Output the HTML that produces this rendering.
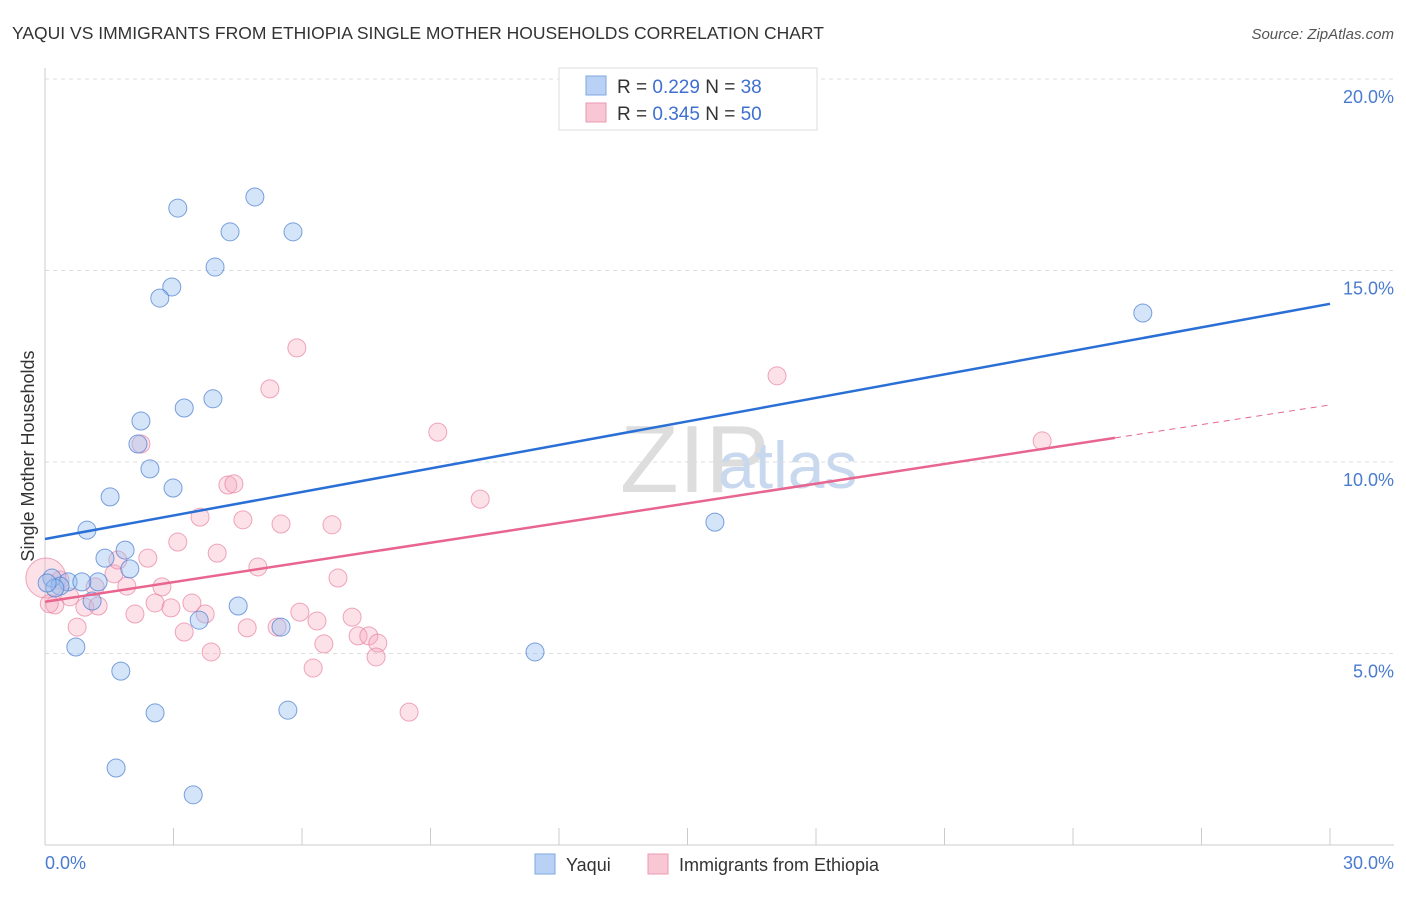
<!DOCTYPE html>
<html><head><meta charset="utf-8"><style>
body{margin:0;background:#fff;font-family:"Liberation Sans",sans-serif;}
svg text{font-family:"Liberation Sans",sans-serif;}
</style></head><body>
<svg width="1406" height="892">
<text x="12" y="39" font-size="17.5" fill="#333">YAQUI VS IMMIGRANTS FROM ETHIOPIA SINGLE MOTHER HOUSEHOLDS CORRELATION CHART</text>
<text x="1394" y="39" font-size="15" fill="#555" text-anchor="end" font-style="italic">Source: ZipAtlas.com</text>
<text x="620" y="492" font-size="96" fill="#ddd" font-family="Liberation Serif">ZIP</text>
<text x="718" y="488" font-size="66" fill="#c8d8ee">atlas</text>
<g id="grid"></g>
<g id="axes"></g>
<g id="pts"></g>
<g id="lines"></g>
<text transform="translate(34,456) rotate(-90)" font-size="18" fill="#333" text-anchor="middle">Single Mother Households</text>
<text x="45" y="869" font-size="18" fill="#4a7bd0">0.0%</text>
<text x="1394" y="869" font-size="18" fill="#4a7bd0" text-anchor="end">30.0%</text>
<g>
<rect x="559" y="68" width="258" height="62" fill="#fff" stroke="#ddd"/>
<rect x="586" y="76" width="20" height="19" fill="#b9d1f4" stroke="#7fa6e0"/>
<rect x="586" y="103" width="20" height="19" fill="#f9c6d4" stroke="#eb9bb3"/>
<text x="617" y="93" font-size="19" fill="#333">R = <tspan fill="#3f6fd0">0.229</tspan>   N = <tspan fill="#3f6fd0">38</tspan></text>
<text x="617" y="120" font-size="19" fill="#333">R = <tspan fill="#3f6fd0">0.345</tspan>   N = <tspan fill="#3f6fd0">50</tspan></text>
</g>
<g>
<rect x="535" y="854" width="20" height="20" fill="#b9d1f4" stroke="#7fa6e0"/>
<text x="566" y="871" font-size="18" fill="#333">Yaqui</text>
<rect x="648" y="854" width="20" height="20" fill="#f9c6d4" stroke="#eb9bb3"/>
<text x="679" y="871" font-size="18" fill="#333">Immigrants from Ethiopia</text>
</g>
</svg>
<script>
const yTicks=[5,10,15,20];
const yTickLabels=["5.0%","10.0%","15.0%","20.0%"];
const xTicks=[0,3,6,9,12,15,18,21,24,27,30];
const blueX=[3.10,4.90,4.32,5.79,3.97,2.96,2.68,25.63,3.92,3.25,2.24,2.17,2.45,2.99,1.52,0.98,15.64,1.87,1.40,1.98,0.16,0.54,1.24,0.35,1.10,4.51,3.60,5.51,0.72,11.44,1.77,2.57,5.67,1.66,3.46,0.86,0.23,0.05];
const blueY=[16.63,16.92,16.01,16.01,15.09,14.57,14.28,13.89,11.65,11.41,11.07,10.47,9.82,9.32,9.09,8.22,8.43,7.70,7.49,7.21,6.97,6.87,6.87,6.76,6.37,6.24,5.87,5.69,5.17,5.04,4.54,3.45,3.52,2.01,1.31,6.87,6.71,6.84];
const pinkX=[5.88,5.25,17.09,9.17,23.28,2.24,10.16,4.27,4.41,3.62,4.62,5.51,6.70,3.10,4.02,2.40,4.97,1.61,6.84,2.73,1.91,0.35,1.17,0.58,0.23,0.93,3.43,2.57,2.94,1.24,2.10,3.74,5.95,7.17,6.35,0.75,4.72,5.42,3.25,7.31,7.56,7.77,6.51,3.88,7.73,6.26,8.50,0.02,1.70,0.10];
const pinkY=[12.98,11.91,12.25,10.78,10.55,10.47,9.03,9.40,9.43,8.56,8.49,8.38,8.36,7.91,7.62,7.49,7.26,7.08,6.97,6.74,6.76,6.92,6.74,6.48,6.27,6.21,6.32,6.32,6.19,6.24,6.03,6.03,6.08,5.95,5.85,5.69,5.67,5.69,5.56,5.46,5.46,5.27,5.25,5.04,4.91,4.62,3.47,6.97,7.44,6.30];
const blueTrend=[[0,7.99],[30,14.13]];
const pinkTrend=[[0,6.35],[24.98,10.63],[30,11.49]];
const X=v=>45+v/30*1285, Y=v=>845-v/5*191.5;
const NS="http://www.w3.org/2000/svg";
function mk(t,a,p){const e=document.createElementNS(NS,t);for(const k in a)e.setAttribute(k,a[k]);document.getElementById(p).appendChild(e);return e;}
yTicks.forEach((t,i)=>{
 const l=mk('line',{x1:45,x2:1394,y1:Y(t),y2:Y(t),stroke:'#ddd','stroke-dasharray':'4,4'},'grid');
 
 
 const tx=mk('text',{x:1394,y:Y(t)+24,'font-size':18,fill:'#4a7bd0','text-anchor':'end'},'grid');
 tx.textContent=yTickLabels[i];
 
 
});
let ax=mk('line',{x1:45,x2:1394,y1:845,y2:845,stroke:'#ccc'},'axes');


let ay=mk('line',{x1:45,x2:45,y1:68,y2:845,stroke:'#ccc'},'axes');


xTicks.forEach(t=>{
 const l=mk('line',{x1:X(t),x2:X(t),y1:828,y2:845,stroke:'#ccc'},'axes');
 
 
});
pinkX.forEach((x,i)=>{
 const c=mk('circle',{cx:X(x),cy:Y(pinkY[i]),r:i==47?20:9,fill:'rgba(246,170,192,0.35)',stroke:'rgba(232,130,160,0.7)','stroke-width':1},'pts');
 
 
});
blueX.forEach((x,i)=>{
 const c=mk('circle',{cx:X(x),cy:Y(blueY[i]),r:9,fill:'rgba(150,190,240,0.4)',stroke:'rgba(80,130,210,0.75)','stroke-width':1},'pts');
 
 
});
let bl=mk('line',{x1:X(blueTrend[0][0]),y1:Y(blueTrend[0][1]),x2:X(blueTrend[1][0]),y2:Y(blueTrend[1][1]),stroke:'#2a6fd6','stroke-width':2.5},'lines');


let pl=mk('line',{x1:X(pinkTrend[0][0]),y1:Y(pinkTrend[0][1]),x2:X(pinkTrend[1][0]),y2:Y(pinkTrend[1][1]),stroke:'#e8658f','stroke-width':2.5},'lines');


let pd=mk('line',{x1:X(pinkTrend[1][0]),y1:Y(pinkTrend[1][1]),x2:X(pinkTrend[2][0]),y2:Y(pinkTrend[2][1]),stroke:'#e8658f','stroke-width':1,'stroke-dasharray':'6,5'},'lines');


</script>
</body></html>
